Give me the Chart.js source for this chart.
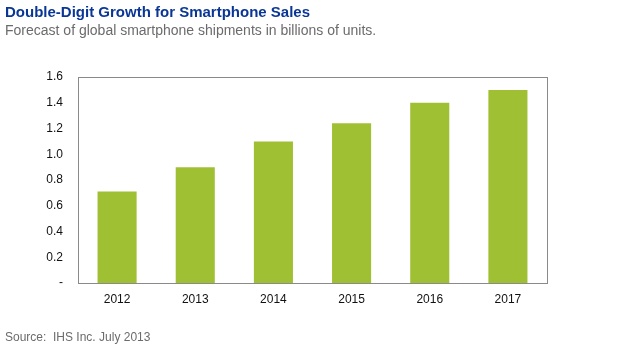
<!DOCTYPE html>
<html>
<head>
<meta charset="utf-8">
<script src="https://cdn.jsdelivr.net/npm/chart.js@4/dist/chart.umd.min.js"></script>
<style>
    body { margin: 0; background: #fff; font-family: "Liberation Sans", Arial, sans-serif; }
    #wrap { position: relative; width: 620px; height: 349px; }
    #chart { position: absolute; left: 0; top: 0; }
    .title { position: absolute; left: 5px; top: 3px; font-size: 15px; font-weight: bold; color: #0a3796; }
    .subtitle { position: absolute; left: 5px; top: 22px; font-size: 14px; color: #6b6b6b; }
    .source { position: absolute; left: 5px; top: 330px; font-size: 12px; color: #6b6b6b; }
</style>
</head>
<body>
<div id="wrap">
    <canvas id="chart" width="620" height="349"></canvas>
    <div class="title">Double-Digit Growth for Smartphone Sales</div>
    <div class="subtitle">Forecast of global smartphone shipments in billions of units.</div>
    <div class="source">Source:&nbsp; IHS Inc. July 2013</div>
</div>
<script>
var years = ['2012', '2013', '2014', '2015', '2016', '2017'];
var shipments = [0.71, 0.90, 1.10, 1.24, 1.40, 1.50];
var yTicks = [0, 0.2, 0.4, 0.6, 0.8, 1.0, 1.2, 1.4, 1.6];

// box around the plot area
var frame = {
    id: 'frame',
    afterDraw: function (chart) {
        var a = chart.chartArea, ctx = chart.ctx;
        ctx.save();
        ctx.strokeStyle = '#8a8a8a';
        ctx.lineWidth = 1;
        ctx.strokeRect(Math.round(a.left) + 0.5, Math.round(a.top) + 0.5,
            Math.round(a.right - a.left), Math.round(a.bottom - a.top));
        ctx.restore();
    }
};

var ctx = document.getElementById('chart').getContext('2d');
var myChart = new Chart(ctx, {
    type: 'bar',
    data: {
        labels: years,
        datasets: [{
            data: shipments,
            backgroundColor: '#a0c034',
            borderWidth: 0,
            barPercentage: 0.5,
            categoryPercentage: 1.0
        }]
    },
    options: {
        responsive: false,
        animation: false,
        layout: { padding: { left: 0, top: 77, right: 73, bottom: 0 } },
        plugins: { legend: { display: false }, tooltip: { enabled: false } },
        scales: {
            x: {
                grid: { display: false, drawTicks: false },
                border: { display: false },
                ticks: { color: '#111', font: { family: 'Liberation Sans', size: 12 }, padding: 9 },
                afterFit: function (scale) { scale.height = 66; }
            },
            y: {
                min: 0,
                max: 1.6,
                grid: { display: false, drawTicks: false },
                border: { display: false },
                afterBuildTicks: function (scale) {
                    scale.ticks = yTicks.map(function (v) { return { value: v }; });
                },
                ticks: {
                    color: '#111',
                    font: { family: 'Liberation Sans', size: 12 },
                    padding: 15,
                    callback: function (value) {
                        return value === 0 ? '-' : value.toFixed(1);
                    }
                },
                afterFit: function (scale) { scale.width = 78; }
            }
        }
    },
    plugins: [frame]
});
</script>
</body>
</html>
